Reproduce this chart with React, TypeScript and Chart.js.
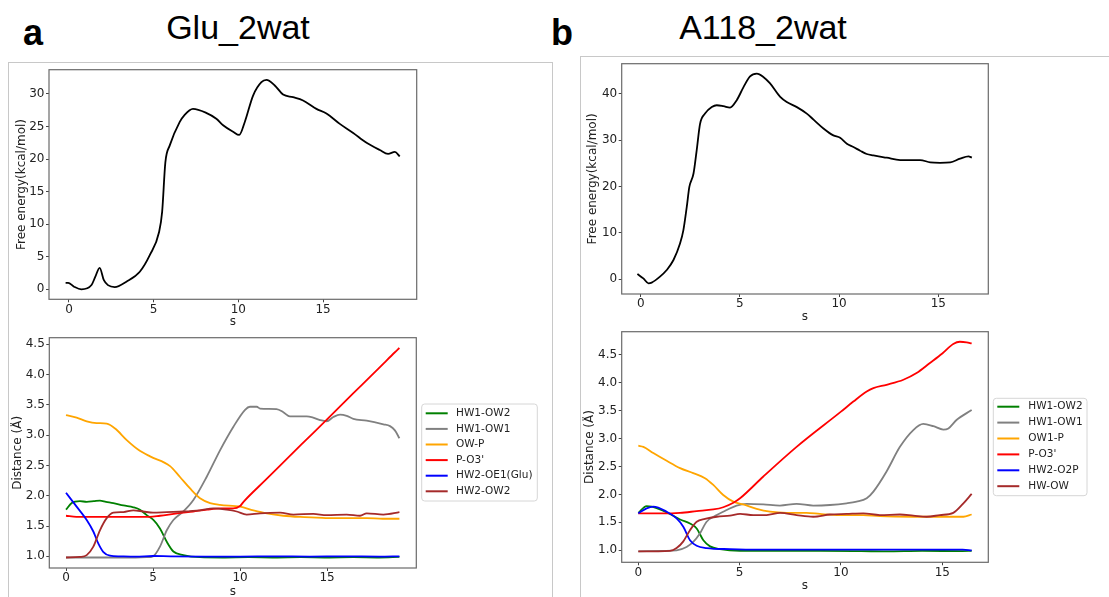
import React, { useEffect, useRef } from "react";
import { Chart, registerables } from "chart.js";
Chart.register(...registerables);

const FONT = "'DejaVu Sans', sans-serif";

// ---------- Panel a (Glu_2wat) free energy ----------
const gluFeS = [-0.2, -0.05, 0.3, 0.73, 1.33, 1.55, 1.81, 2.06, 2.3, 2.7, 3.39, 4.18, 4.77, 5.32, 5.5, 5.69, 5.95, 6.54, 6.83, 7.32, 8.1, 8.7, 9.1, 9.69, 10.05, 10.38, 10.87, 11.36, 11.66, 12.15, 12.64, 13.23, 13.82, 14.61, 15.2, 15.99, 16.78, 17.57, 18.35, 18.84, 19.24, 19.53];
const gluFeG = [1.0, 1.0, 0.4, 0.0, 0.66, 1.9, 3.3, 1.4, 0.65, 0.35, 1.17, 2.7, 5.25, 8.8, 11.9, 19.5, 22.1, 25.7, 26.8, 27.7, 27.1, 26.2, 25.2, 24.2, 23.7, 25.7, 29.75, 31.8, 32.15, 31.3, 29.9, 29.5, 29.0, 27.7, 27.0, 25.4, 24.0, 22.5, 21.4, 20.8, 21.1, 20.4];

// ---------- Panel a distances ----------
const gluHw1Ow2S = [0, 0.33, 0.8, 1.19, 1.6, 1.95, 2.3, 2.72, 3.3, 3.87, 4.25, 4.64, 5.02, 5.4, 5.79, 6.17, 6.74, 7.7, 9, 10.5, 12, 13.5, 15, 16.5, 18, 19.16];
const gluHw1Ow2D = [1.77, 1.88, 1.91, 1.9, 1.91, 1.92, 1.9, 1.88, 1.84, 1.81, 1.77, 1.68, 1.6, 1.46, 1.24, 1.08, 1.02, 0.985, 0.98, 0.985, 0.98, 0.985, 0.98, 0.985, 0.98, 0.99];
const gluHw1Ow1S = [0, 1, 2, 3, 4, 4.64, 5.0, 5.4, 5.79, 6.17, 6.74, 7.32, 8.08, 8.85, 9.62, 10.29, 10.57, 10.96, 11.15, 12.1, 12.49, 12.87, 13.83, 14.2, 14.6, 14.98, 15.36, 15.75, 16.13, 16.51, 17.28, 18.24, 18.62, 18.9, 19.16];
const gluHw1Ow1D = [0.98, 0.98, 0.98, 0.98, 0.98, 0.985, 1.0, 1.16, 1.43, 1.6, 1.74, 1.93, 2.31, 2.75, 3.14, 3.42, 3.47, 3.47, 3.44, 3.43, 3.38, 3.31, 3.31, 3.29, 3.25, 3.23, 3.3, 3.34, 3.32, 3.27, 3.24, 3.18, 3.15, 3.08, 2.95];
const gluOwPS = [0, 0.61, 1.19, 1.76, 2.34, 2.82, 3.49, 4.16, 4.83, 5.98, 6.55, 7.13, 7.7, 8.28, 8.85, 10, 10.77, 11.53, 12.49, 13.45, 14.41, 15.36, 16.3, 17.28, 18.2, 19.16];
const gluOwPD = [3.33, 3.29, 3.23, 3.2, 3.19, 3.11, 2.92, 2.76, 2.65, 2.49, 2.31, 2.12, 1.96, 1.88, 1.85, 1.82, 1.76, 1.71, 1.67, 1.65, 1.64, 1.63, 1.63, 1.63, 1.62, 1.62];
const gluPO3S = [0, 0.6, 2, 4, 4.8, 5.4, 6.4, 7.3, 8.1, 8.9, 9.6, 10.0, 10.2, 11.5, 13.5, 15.0, 16.5, 17.5, 18.3, 18.9, 19.16];
const gluPO3D = [1.67, 1.65, 1.65, 1.65, 1.65, 1.67, 1.71, 1.74, 1.77, 1.79, 1.79, 1.83, 1.9, 2.27, 2.84, 3.26, 3.69, 3.97, 4.2, 4.37, 4.44];
const gluHw2Oe1S = [0, 0.61, 1.19, 1.57, 1.86, 2.15, 2.53, 3.1, 4, 5, 6, 8, 10, 12, 14, 16, 18, 19.16];
const gluHw2Oe1D = [2.05, 1.82, 1.6, 1.41, 1.21, 1.07, 1.01, 1.0, 0.995, 1.005, 1.0, 0.995, 0.995, 1.0, 0.995, 1.0, 0.995, 1.0];
const gluHw2Ow2S = [0, 0.8, 1.19, 1.57, 1.95, 2.34, 2.72, 3.3, 3.87, 4.44, 5, 5.79, 6.74, 7.7, 8.47, 9.23, 9.81, 10.38, 11.15, 12.3, 13.07, 14.21, 14.98, 16.13, 16.9, 17.28, 18.24, 19.16];
const gluHw2Ow2D = [0.98, 0.99, 1.02, 1.16, 1.43, 1.63, 1.72, 1.73, 1.76, 1.74, 1.72, 1.73, 1.74, 1.76, 1.79, 1.77, 1.74, 1.69, 1.71, 1.72, 1.69, 1.7, 1.68, 1.69, 1.67, 1.71, 1.69, 1.73];

// ---------- Panel b (A118_2wat) free energy ----------
const aFeS = [-0.17, 0.13, 0.39, 0.55, 0.97, 1.31, 1.65, 1.98, 2.15, 2.32, 2.45, 2.66, 2.82, 2.99, 3.24, 3.58, 3.83, 4.17, 4.5, 4.84, 5.18, 5.51, 5.85, 6.18, 6.52, 7.03, 7.36, 7.87, 8.37, 8.71, 9.21, 9.71, 10.05, 10.39, 10.72, 11.06, 11.39, 11.73, 12.4, 13.08, 13.75, 14.08, 14.59, 15.09, 15.6, 16.1, 16.52, 16.69];
const aFeG = [1.15, 0.2, -0.86, -0.7, 0.57, 2.0, 4.16, 7.7, 10.6, 15.6, 19.9, 22.8, 27.8, 33.5, 35.7, 37.1, 37.5, 37.3, 37.0, 38.6, 41.4, 43.7, 44.3, 43.6, 42.2, 39.3, 38.2, 37.1, 35.7, 34.4, 32.5, 31.0, 30.5, 29.2, 28.5, 27.7, 27.0, 26.7, 26.2, 25.7, 25.7, 25.7, 25.2, 25.1, 25.2, 26.0, 26.5, 26.2];

// ---------- Panel b distances ----------
const aHw1Ow2S = [0, 0.41, 0.66, 1.07, 1.56, 2.06, 2.55, 2.88, 3.21, 3.54, 4.03, 5.02, 7, 9, 11, 12.25, 14, 16, 16.45];
const aHw1Ow2D = [1.67, 1.79, 1.78, 1.73, 1.65, 1.55, 1.48, 1.39, 1.18, 1.07, 1.02, 0.99, 0.99, 0.99, 0.985, 0.98, 0.99, 0.985, 0.99];
const aHw1Ow1S = [0, 1.23, 1.89, 2.38, 2.71, 3.04, 3.37, 3.87, 4.36, 4.85, 5.35, 6.17, 6.99, 7.81, 8.63, 9.46, 10.28, 10.77, 11.27, 11.6, 12.25, 12.91, 13.57, 14.06, 14.56, 15.05, 15.3, 15.7, 16.45];
const aHw1Ow1D = [0.98, 0.99, 1.0, 1.06, 1.15, 1.3, 1.51, 1.63, 1.72, 1.8, 1.83, 1.82, 1.8, 1.83, 1.8, 1.81, 1.84, 1.87, 1.93, 2.05, 2.41, 2.85, 3.15, 3.26, 3.22, 3.16, 3.18, 3.33, 3.51];
const aOw1PS = [0, 0.25, 0.74, 1.4, 2.06, 2.71, 3.29, 3.7, 4.19, 4.69, 5.18, 5.84, 6.5, 7.32, 8.3, 8.96, 9.95, 11.1, 11.92, 13.57, 15.21, 16.04, 16.45];
const aOw1PD = [2.87, 2.85, 2.74, 2.6, 2.47, 2.38, 2.29, 2.17, 1.99, 1.87, 1.82, 1.74, 1.69, 1.67, 1.67, 1.65, 1.63, 1.63, 1.61, 1.6, 1.6, 1.6, 1.64];
const aPO3S = [0, 1.23, 2.06, 2.88, 3.7, 4.19, 4.69, 5.02, 6.17, 7.81, 10, 10.61, 11.27, 11.6, 12.25, 13.08, 13.73, 14.39, 15, 15.54, 15.87, 16.2, 16.45];
const aPO3D = [1.66, 1.66, 1.67, 1.7, 1.73, 1.77, 1.85, 1.93, 2.32, 2.85, 3.48, 3.66, 3.84, 3.9, 3.96, 4.05, 4.17, 4.35, 4.52, 4.69, 4.73, 4.72, 4.7];
const aHw2O2pS = [0, 0.41, 0.74, 1.4, 1.89, 2.22, 2.55, 2.88, 3.37, 4.52, 6, 8, 10, 12, 14, 16, 16.45];
const aHw2O2pD = [1.66, 1.75, 1.78, 1.69, 1.57, 1.42, 1.18, 1.08, 1.04, 1.02, 1.01, 1.01, 1.01, 1.01, 1.01, 1.01, 1.0];
const aHwOwS = [0, 1.56, 1.89, 2.22, 2.55, 2.88, 3.29, 3.87, 4.52, 5.02, 5.67, 6.33, 7.0, 7.81, 8.63, 9.46, 10.28, 11.1, 11.92, 12.91, 13.57, 14.23, 14.88, 15.54, 16.04, 16.45];
const aHwOwD = [0.98, 0.99, 1.04, 1.16, 1.36, 1.51, 1.56, 1.6, 1.62, 1.65, 1.63, 1.63, 1.67, 1.63, 1.6, 1.64, 1.65, 1.66, 1.63, 1.64, 1.62, 1.6, 1.63, 1.67, 1.84, 2.01];

// ---------- ticks & labels ----------
const sTicks = [0, 5, 10, 15];
const gluFeTicks = [0, 5, 10, 15, 20, 25, 30];
const aFeTicks = [0, 10, 20, 30, 40];
const distTicks = [1.0, 1.5, 2.0, 2.5, 3.0, 3.5, 4.0, 4.5];
const gluLabels = ["HW1-OW2", "HW1-OW1", "OW-P", "P-O3'", "HW2-OE1(Glu)", "HW2-OW2"];
const aLabels = ["HW1-OW2", "HW1-OW1", "OW1-P", "P-O3'", "HW2-O2P", "HW-OW"];
const seriesColors = ["green", "gray", "orange", "red", "blue", "brown"];

type DS = { label: string; color: string; xs: number[]; ys: number[] };
type Leg = { x0: number; y0: number; x1: number; y1: number; row0: number; gap: number; lineX0: number; lineX1: number; textX: number };
type Spec = {
  L: number; T: number; R: number; B: number;
  xMin: number; xMax: number; yMin: number; yMax: number;
  xTicks: number[]; yTicks: number[]; yDec: number;
  yTitle: string; yTitleX: number; xTitleY: number;
  datasets: DS[]; legend?: Leg;
};

const boxPlugin = {
  id: "plotBox",
  afterDraw(chart: any) {
    const { ctx, chartArea } = chart;
    const { left, top, right, bottom } = chartArea;
    ctx.save();
    ctx.strokeStyle = "#6a6a6a";
    ctx.lineWidth = 1.2;
    ctx.strokeRect(left, top, right - left, bottom - top);
    ctx.restore();
  },
};

const legendPlugin = {
  id: "boxLegend",
  afterDraw(chart: any, _args: any, opts: any) {
    if (!opts || !opts.show) return;
    const ctx = chart.ctx;
    ctx.save();
    const { x0, y0, x1, y1 } = opts;
    const r = 3;
    ctx.beginPath();
    ctx.moveTo(x0 + r, y0);
    ctx.lineTo(x1 - r, y0);
    ctx.quadraticCurveTo(x1, y0, x1, y0 + r);
    ctx.lineTo(x1, y1 - r);
    ctx.quadraticCurveTo(x1, y1, x1 - r, y1);
    ctx.lineTo(x0 + r, y1);
    ctx.quadraticCurveTo(x0, y1, x0, y1 - r);
    ctx.lineTo(x0, y0 + r);
    ctx.quadraticCurveTo(x0, y0, x0 + r, y0);
    ctx.closePath();
    ctx.fillStyle = "rgba(255,255,255,0.85)";
    ctx.fill();
    ctx.strokeStyle = "#d6d6d6";
    ctx.lineWidth = 1;
    ctx.stroke();
    chart.data.datasets.forEach((ds: any, i: number) => {
      const y = opts.row0 + i * opts.gap;
      ctx.strokeStyle = ds.borderColor;
      ctx.lineWidth = 2;
      ctx.beginPath();
      ctx.moveTo(opts.lineX0, y);
      ctx.lineTo(opts.lineX1, y);
      ctx.stroke();
      ctx.fillStyle = "#222";
      ctx.font = "10.5px " + FONT;
      ctx.textBaseline = "middle";
      ctx.textAlign = "left";
      ctx.fillText(ds.label, opts.textX, y);
    });
    ctx.restore();
  },
};

function Panel({ spec }: { spec: Spec }) {
  const ref = useRef<HTMLCanvasElement>(null);
  const half = 7.2;
  const cl = Math.floor(spec.yTitleX - half);
  const ct = Math.floor(spec.T - 8);
  const cr = Math.ceil(spec.legend ? spec.legend.x1 + 3 : spec.R + 8);
  const cb = Math.ceil(spec.xTitleY + half + 1);
  const w = cr - cl;
  const h = cb - ct;

  useEffect(() => {
    if (!ref.current) return;
    const leg = spec.legend;
    const chart = new Chart(ref.current, {
      type: "line",
      data: {
        datasets: spec.datasets.map((d, i) => ({
          label: d.label,
          data: d.xs.map((x, k) => ({ x, y: d.ys[k] })),
          borderColor: d.color,
          backgroundColor: d.color,
          borderWidth: 1.8,
          pointRadius: 0,
          fill: false,
          cubicInterpolationMode: "monotone" as const,
          order: -i,
        })),
      },
      options: {
        responsive: false,
        animation: false,
        devicePixelRatio: 1,
        layout: { padding: { left: 0, top: spec.T - ct, right: cr - spec.R, bottom: 0 } },
        plugins: {
          legend: { display: false },
          tooltip: { enabled: false },
          boxLegend: leg
            ? {
                show: true,
                x0: leg.x0 - cl, y0: leg.y0 - ct, x1: leg.x1 - cl, y1: leg.y1 - ct,
                row0: leg.row0 - ct, gap: leg.gap,
                lineX0: leg.lineX0 - cl, lineX1: leg.lineX1 - cl, textX: leg.textX - cl,
              }
            : { show: false },
        } as any,
        scales: {
          x: {
            type: "linear",
            min: spec.xMin,
            max: spec.xMax,
            afterBuildTicks: (a: any) => { a.ticks = spec.xTicks.map((v) => ({ value: v })); },
            afterFit: (a: any) => { a.height = cb - spec.B; },
            grid: { drawOnChartArea: false, drawTicks: true, tickLength: 3, color: "#444", lineWidth: 1 },
            border: { display: false },
            ticks: { padding: 0, color: "#222", font: { family: FONT, size: 12 }, maxRotation: 0, callback: (v: any) => String(v) },
            title: { display: true, text: "s", color: "#222", font: { family: FONT, size: 12 }, padding: { top: 0, bottom: cb - half - spec.xTitleY } },
          },
          y: {
            type: "linear",
            min: spec.yMin,
            max: spec.yMax,
            afterBuildTicks: (a: any) => { a.ticks = spec.yTicks.map((v) => ({ value: v })); },
            afterFit: (a: any) => { a.width = spec.L - cl; },
            grid: { drawOnChartArea: false, drawTicks: true, tickLength: 3, color: "#444", lineWidth: 1 },
            border: { display: false },
            ticks: { padding: 1.5, color: "#222", font: { family: FONT, size: 12 }, callback: (v: any) => Number(v).toFixed(spec.yDec) },
            title: { display: true, text: spec.yTitle, color: "#222", font: { family: FONT, size: 12 }, padding: { top: spec.yTitleX - half - cl, bottom: 0 } },
          },
        },
      } as any,
      plugins: [boxPlugin, legendPlugin] as any,
    });
    return () => chart.destroy();
  }, []);

  return (
    <canvas
      ref={ref}
      width={w}
      height={h}
      style={{ position: "absolute", left: cl, top: ct, width: w, height: h }}
    />
  );
}

const mk = (labels: string[], xs: number[][], ys: number[][]): DS[] =>
  labels.map((l, i) => ({ label: l, color: seriesColors[i], xs: xs[i], ys: ys[i] }));

const specTL: Spec = {
  L: 49, T: 69, R: 416.7, B: 299.3,
  xMin: -1.18, xMax: 20.53, yMin: -1.53, yMax: 33.72,
  xTicks: sTicks, yTicks: gluFeTicks, yDec: 0,
  yTitle: "Free energy(kcal/mol)", yTitleX: 22, xTitleY: 322,
  datasets: [{ label: "Glu_2wat", color: "#000", xs: gluFeS, ys: gluFeG }],
};

const specBL: Spec = {
  L: 49.3, T: 337.3, R: 416.3, B: 568,
  xMin: -0.96, xMax: 20.13, yMin: 0.807, yMax: 4.61,
  xTicks: sTicks, yTicks: distTicks, yDec: 1,
  yTitle: "Distance (Å)", yTitleX: 18, xTitleY: 591.7,
  datasets: mk(
    gluLabels,
    [gluHw1Ow2S, gluHw1Ow1S, gluOwPS, gluPO3S, gluHw2Oe1S, gluHw2Ow2S],
    [gluHw1Ow2D, gluHw1Ow1D, gluOwPD, gluPO3D, gluHw2Oe1D, gluHw2Ow2D]
  ),
  legend: { x0: 421.7, y0: 404, x1: 537.3, y1: 501, row0: 413.3, gap: 15.6, lineX0: 425.7, lineX1: 447.7, textX: 456 },
};

const specTR: Spec = {
  L: 621.7, T: 63.3, R: 988.3, B: 294,
  xMin: -0.96, xMax: 17.52, yMin: -3.16, yMax: 46.45,
  xTicks: sTicks, yTicks: aFeTicks, yDec: 0,
  yTitle: "Free energy(kcal/mol)", yTitleX: 593.3, xTitleY: 317.3,
  datasets: [{ label: "A118_2wat", color: "#000", xs: aFeS, ys: aFeG }],
};

const specBR: Spec = {
  L: 621.7, T: 331.7, R: 988.3, B: 562.3,
  xMin: -0.82, xMax: 17.27, yMin: 0.785, yMax: 4.91,
  xTicks: sTicks, yTicks: distTicks, yDec: 1,
  yTitle: "Distance (Å)", yTitleX: 589.5, xTitleY: 586,
  datasets: mk(
    aLabels,
    [aHw1Ow2S, aHw1Ow1S, aOw1PS, aPO3S, aHw2O2pS, aHwOwS],
    [aHw1Ow2D, aHw1Ow1D, aOw1PD, aPO3D, aHw2O2pD, aHwOwD]
  ),
  legend: { x0: 993.3, y0: 398.3, x1: 1087, y1: 495.7, row0: 406.7, gap: 15.9, lineX0: 997.3, lineX1: 1019.3, textX: 1028.3 },
};

const headFont = "'Liberation Sans', Arial, sans-serif";

export default function App() {
  return (
    <div style={{ position: "absolute", left: 0, top: 0, width: 1109, height: 597, overflow: "hidden", background: "#fff" }}>
      <div style={{ position: "absolute", left: 8, top: 62, width: 545, height: 600, border: "1px solid #c8c8c8", boxSizing: "border-box" }} />
      <div style={{ position: "absolute", left: 580, top: 56, width: 600, height: 600, border: "1px solid #c8c8c8", boxSizing: "border-box" }} />
      <div style={{ position: "absolute", left: 23, top: 14.5, fontFamily: headFont, fontWeight: "bold", fontSize: 36, lineHeight: "36px" }}>a</div>
      <div style={{ position: "absolute", left: 551, top: 14.5, fontFamily: headFont, fontWeight: "bold", fontSize: 36, lineHeight: "36px" }}>b</div>
      <div style={{ position: "absolute", left: 138, width: 200, textAlign: "center", top: 10.2, fontFamily: headFont, fontSize: 34, lineHeight: "34px" }}>Glu_2wat</div>
      <div style={{ position: "absolute", left: 663, width: 200, textAlign: "center", top: 10.2, fontFamily: headFont, fontSize: 34, lineHeight: "34px" }}>A118_2wat</div>
      <Panel spec={specTL} />
      <Panel spec={specBL} />
      <Panel spec={specTR} />
      <Panel spec={specBR} />
    </div>
  );
}
